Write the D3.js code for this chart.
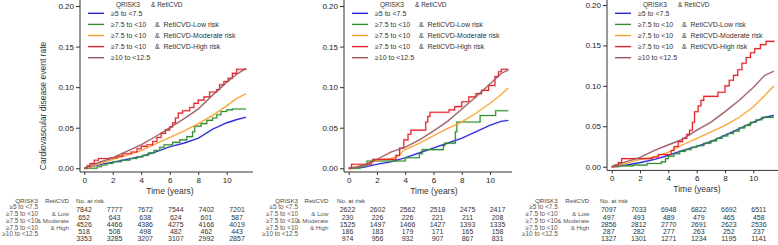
<!DOCTYPE html>
<html>
<head>
<meta charset="utf-8">
<script src="https://cdn.jsdelivr.net/npm/d3@7"></script>
<style>
  body { margin: 0; background: #fff; }
  svg { display: block; font-family: "Liberation Sans", Arial, sans-serif; }
  .tick text { fill: #222; }
</style>
</head>
<body>
<div id="chart"></div>
<script>
// ---- data ----
var groupLabels = ["\u22655 to <7.5", "\u22657.5 to <10", "\u22657.5 to <10", "\u22657.5 to <10", "\u226510 to <12.5"];
var retiLegend = ["", "&  RetiCVD-Low risk", "&  RetiCVD-Moderate risk", "&  RetiCVD-High risk", ""];
var retiTable = ["", "& Low", "& Moderate", "& High", ""];
var colors = ["#2424d8", "#2f8f2f", "#f9a02c", "#e4242a", "#9c5660"];
var riskTimes = [0, 2, 4, 6, 8, 10];
var xTicks = [0, 2, 4, 6, 8, 10];
var yTicks = [0, 0.05, 0.10, 0.15, 0.20];

// panel 1
var blue1 = [[0,0],[0.5,.002],[1,.004],[1.5,.006],[2,.0075],[3,.011],[4,.0145],[5,.02],[6,.0265],[7,.031],[8,.037],[9,.048],[10,.056],[10.7,.060],[11.35,.063]];
var green1 = [[0,0],[0.9,.002],[1.2,.004],[1.6,.006],[2.0,.008],[2.6,.010],[3.2,.012],[3.7,.014],[4.1,.016],[4.5,.019],[4.9,.022],[5.3,.026],[5.6,.029],[6.2,.032],[6.7,.035],[7.2,.039],[7.6,.045],[7.75,.052],[8.2,.055],[8.6,.059],[9.0,.062],[9.3,.066],[9.6,.070],[10.0,.072],[10.4,.073],[11.35,.073]];
var orange1 = [[0,0],[0.5,.002],[1,.005],[1.5,.008],[2,.011],[3,.016],[4,.022],[5,.030],[6,.038],[7,.046],[8,.055],[9,.065],[10,.077],[10.7,.086],[11.35,.092]];
var red1 = [[0,0],[0.2,.003],[0.4,.006],[0.7,.010],[1.0,.012],[1.8,.013],[2.3,.015],[2.7,.018],[3.3,.020],[3.7,.024],[4.0,.027],[4.4,.029],[4.8,.033],[5.1,.038],[5.4,.043],[5.7,.047],[6.0,.051],[6.2,.056],[6.4,.062],[6.6,.068],[6.9,.071],[7.4,.075],[7.7,.080],[8.0,.084],[8.4,.088],[8.8,.094],[9.3,.097],[9.5,.103],[9.8,.107],[10.1,.111],[10.4,.117],[10.7,.122],[11.35,.123]];
var brown1 = [[0,0],[0.5,.004],[1,.007],[2,.013],[3,.021],[4,.029],[5,.039],[6,.050],[7,.061],[8,.073],[9,.090],[10,.106],[10.7,.116],[11.35,.123]];

// panel 2
var blue2 = [[0,0],[1,.001],[2,.005],[3,.008],[4,.013],[5,.019],[6,.025],[7,.031],[8,.037],[9,.045],[10,.053],[10.8,.058],[11.3,.059]];
var green2 = [[0,0],[0.8,.003],[1.3,.009],[4.0,.013],[5.0,.018],[5.2,.023],[6.7,.028],[6.8,.031],[7.55,.045],[7.65,.057],[9.3,.065],[10.4,.071],[11.3,.071]];
var orange2 = [[0,0],[1,.003],[2,.010],[3,.012],[3.6,.016],[3.8,.021],[4,.023],[5,.031],[6,.040],[7,.049],[8,.057],[9,.068],[10,.080],[10.8,.091],[11.3,.099]];
var red2 = [[0,0],[0.2,.005],[1.6,.008],[1.7,.011],[3.35,.016],[3.6,.025],[3.9,.035],[4.2,.042],[4.4,.047],[5.45,.057],[5.6,.064],[5.75,.069],[7.1,.072],[7.5,.076],[8.0,.082],[8.5,.088],[9.0,.092],[9.4,.096],[9.9,.102],[10.35,.113],[10.6,.119],[10.8,.122],[11.3,.122]];
var brown2 = [[0,0],[1,.003],[2,.011],[3,.020],[4,.026],[5,.035],[6,.046],[7,.058],[8,.073],[9,.088],[10,.104],[10.8,.117],[11.3,.121]];

// panel 3
var blue3 = [[0,0],[1,.002],[2,.005],[3,.009],[4,.014],[5,.020],[6,.025],[7,.031],[8,.039],[9,.047],[10,.055],[10.8,.061],[11.45,.0635]];
var green3 = [[0,0],[0.5,.001],[1.5,.002],[2.5,.004],[3.5,.006],[3.8,.010],[4.0,.013],[4.4,.016],[4.8,.019],[5.2,.021],[5.6,.024],[6.0,.026],[6.5,.029],[7.0,.032],[7.4,.035],[7.8,.038],[8.2,.041],[8.6,.044],[9.0,.048],[9.4,.051],[9.8,.055],[10.2,.058],[10.6,.061],[11.45,.061]];
var orange3 = [[0,0],[1,.004],[2,.009],[3,.012],[4,.018],[5,.027],[6,.035],[7,.043],[8,.051],[9,.061],[10,.074],[10.8,.088],[11.45,.100]];
var red3 = [[0,0],[0.2,.002],[0.45,.005],[0.7,.010],[2.9,.012],[3.3,.015],[4.2,.020],[4.4,.025],[4.7,.031],[5.0,.035],[5.3,.040],[5.5,.045],[5.7,.055],[5.85,.068],[6.1,.075],[6.3,.082],[6.5,.087],[7.5,.092],[8.0,.100],[8.3,.107],[8.6,.113],[8.9,.120],[9.2,.128],[9.5,.135],[9.8,.141],[10.1,.146],[10.5,.151],[10.9,.155],[11.45,.156]];
var brown3 = [[0,0],[1,.006],[2,.0115],[3,.020],[4,.027],[5,.034],[6,.045],[7,.055],[8,.068],[9,.082],[10,.098],[10.8,.113],[11.45,.118]];

// numbers at risk
var risk1 = [[7842,7777,7672,7544,7402,7201],[652,643,638,624,601,587],[4526,4466,4386,4275,4166,4019],[518,508,498,482,462,443],[3353,3285,3207,3107,2992,2857]];
var risk2 = [[2622,2602,2562,2518,2475,2417],[230,226,226,221,211,208],[1525,1497,1466,1427,1393,1335],[186,183,179,171,165,158],[974,956,932,907,867,831]];
var risk3 = [[7097,7033,6948,6822,6692,6511],[497,493,489,479,465,458],[2856,2812,2770,2691,2623,2536],[287,282,277,263,252,237],[1327,1301,1271,1234,1195,1141]];

// stepped curves (few events) vs dense curves
var stepped = [false, true, false, true, false];

// ---- layout ----
var panels = [
  {series: [blue1, green1, orange1, red1, brown1], risk: risk1, axisX: 80, x0: 84.3, x10: 226.7, xEnd: 253, y0: 168.3, y20: 6,
   labRight: 38, andRight: 69, noRisk: 76, colA: 84, colB: 237, yTitle: true},
  {series: [blue2, green2, orange2, red2, brown2], risk: risk2, axisX: 344, x0: 348.7, x10: 490, xEnd: 512, y0: 168.3, y20: 6,
   labRight: 298, andRight: 328.5, noRisk: 337, colA: 347.5, colB: 497.5, yTitle: false},
  {series: [blue3, green3, orange3, red3, brown3], risk: risk3, axisX: 607, x0: 611.7, x10: 753.3, xEnd: 778, y0: 166.7, y20: 5,
   labRight: 557.7, andRight: 589.3, noRisk: 600, colA: 608.7, colB: 758.8, yTitle: false}
];

var svg = d3.select('#chart').append('svg')
  .attr('width', 778)
  .attr('height', 245);

panels.forEach(function(p) {
  var x = d3.scaleLinear().domain([0, 10]).range([p.x0, p.x10]);
  var y = d3.scaleLinear().domain([0, 0.2]).range([p.y0, p.y20]);
  var axisY = p.y0 + 3.7;

  // y axis
  var gy = svg.append('g')
    .attr('transform', 'translate(' + p.axisX + ',0)')
    .call(d3.axisLeft(y).tickValues(yTicks).tickFormat(d3.format('.2f')).tickSize(4).tickPadding(2))
    .style('font-size', '8px')
    .style('font-family', 'Liberation Sans, Arial, sans-serif');
  gy.select('.domain').remove();
  gy.selectAll('.tick line').attr('stroke', '#333');
  svg.append('line')
    .attr('x1', p.axisX).attr('x2', p.axisX)
    .attr('y1', 0).attr('y2', axisY)
    .attr('stroke', '#333').attr('stroke-width', 1);

  // x axis
  var gx = svg.append('g')
    .attr('transform', 'translate(0,' + axisY + ')')
    .call(d3.axisBottom(x).tickValues(xTicks).tickFormat(d3.format('d')).tickSize(3).tickPadding(2))
    .style('font-size', '8px')
    .style('font-family', 'Liberation Sans, Arial, sans-serif');
  gx.select('.domain').remove();
  gx.selectAll('.tick line').attr('stroke', '#333');
  svg.append('line')
    .attr('x1', p.axisX).attr('x2', p.xEnd)
    .attr('y1', axisY).attr('y2', axisY)
    .attr('stroke', '#333').attr('stroke-width', 1);

  svg.append('text')
    .attr('x', (p.x0 + p.x10) / 2 + 14.5)
    .attr('y', axisY + 22)
    .attr('text-anchor', 'middle')
    .style('font-size', '8.5px')
    .attr('fill', '#333')
    .text('Time (years)');

  if (p.yTitle) {
    svg.append('text')
      .attr('transform', 'translate(46,106)rotate(-90)')
      .attr('text-anchor', 'middle')
      .style('font-size', '8.5px')
      .attr('fill', '#333')
      .text('Cardiovascular disease event rate');
  }

  // curves (faint halo then line)
  p.series.forEach(function(s, i) {
    var line = d3.line()
      .x(function(d) { return x(d[0]); })
      .y(function(d) { return y(d[1]); })
      .curve(stepped[i] ? d3.curveStepAfter : d3.curveLinear);
    svg.append('path')
      .datum(s)
      .attr('d', line)
      .attr('fill', 'none')
      .attr('stroke', colors[i])
      .attr('stroke-opacity', 0.2)
      .attr('stroke-width', 2.2);
    svg.append('path')
      .datum(s)
      .attr('d', line)
      .attr('fill', 'none')
      .attr('stroke', colors[i])
      .attr('stroke-width', 1.1);
  });

  // legend
  var lx = p.axisX + 8;
  var tx = p.axisX + 31;
  svg.append('text').attr('x', tx + 5).attr('y', 5).attr('dy', '0.35em')
    .style('font-size', '6.5px').attr('fill', '#333').text('QRISK3');
  svg.append('text').attr('x', tx + 40).attr('y', 5).attr('dy', '0.35em')
    .style('font-size', '6.5px').attr('fill', '#333').text('& RetiCVD');
  groupLabels.forEach(function(lab, i) {
    var ly = 13.3 + i * 11.1;
    svg.append('line')
      .attr('x1', lx).attr('x2', lx + 16)
      .attr('y1', ly).attr('y2', ly)
      .attr('stroke', colors[i]).attr('stroke-width', 1.4);
    svg.append('text').attr('x', tx).attr('y', ly).attr('dy', '0.35em')
      .style('font-size', '7px').attr('fill', '#333').text(lab);
    if (retiLegend[i]) {
      svg.append('text').attr('x', tx + 44).attr('y', ly).attr('dy', '0.35em')
        .style('font-size', '7px').attr('fill', '#333')
        .attr('xml:space', 'preserve').style('white-space', 'pre')
        .text(retiLegend[i]);
    }
  });

  // number at risk table
  var col = d3.scalePoint().domain(riskTimes).range([p.colA, p.colB]);
  svg.append('text').attr('x', p.labRight).attr('y', 200.5).attr('dy', '0.35em')
    .attr('text-anchor', 'end').style('font-size', '6.2px').attr('fill', '#444').text('QRISK3');
  svg.append('text').attr('x', p.andRight).attr('y', 200.5).attr('dy', '0.35em')
    .attr('text-anchor', 'end').style('font-size', '6.2px').attr('fill', '#444').text('RetiCVD');
  svg.append('text').attr('x', p.noRisk).attr('y', 200.5).attr('dy', '0.35em')
    .style('font-size', '6.2px').attr('fill', '#444').text('No. at risk');
  groupLabels.forEach(function(lab, i) {
    var ry = 207 + i * 6.8;
    svg.append('text').attr('x', p.labRight).attr('y', ry).attr('dy', '0.35em')
      .attr('text-anchor', 'end').style('font-size', '6.4px').attr('fill', '#555').text(lab);
    if (retiTable[i]) {
      svg.append('text').attr('x', p.andRight).attr('y', ry + 0.5).attr('dy', '0.35em')
        .attr('text-anchor', 'end').style('font-size', '6.2px').attr('fill', '#555').text(retiTable[i]);
    }
  });
  p.risk.forEach(function(row, i) {
    var ny = 210 + i * 7.2;
    svg.selectAll(null)
      .data(row)
      .enter().append('text')
      .attr('x', function(d, j) { return col(riskTimes[j]); })
      .attr('y', ny)
      .attr('dy', '0.35em')
      .attr('text-anchor', 'middle')
      .style('font-size', '7px')
      .attr('fill', '#333')
      .text(function(d) { return d; });
  });
});
</script>
</body>
</html>
